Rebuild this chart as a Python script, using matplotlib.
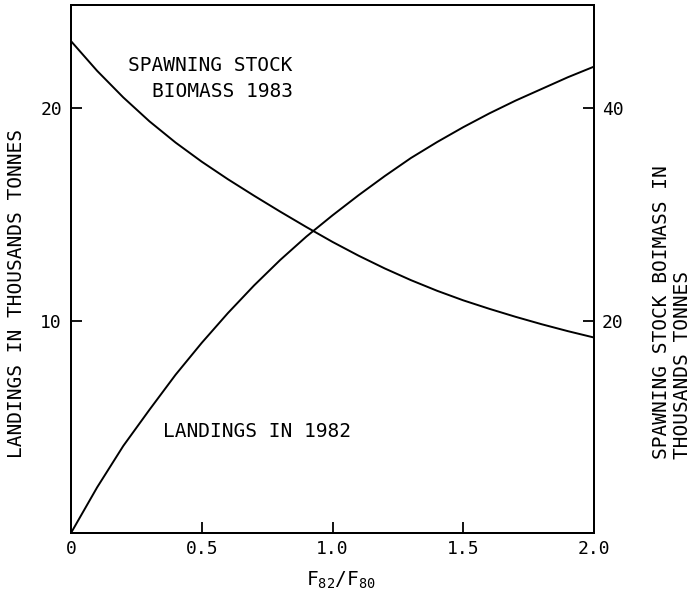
import numpy as np
import matplotlib
matplotlib.use("Agg")
import matplotlib.pyplot as plt

# values
f_ratio = [0.0, 0.1, 0.2, 0.3, 0.4, 0.5, 0.6, 0.7, 0.8, 0.9, 1.0,
           1.1, 1.2, 1.3, 1.4, 1.5, 1.6, 1.7, 1.8, 1.9, 2.0]
landings_1982 = [0.0, 2.15, 4.1, 5.8, 7.45, 8.95, 10.35, 11.65, 12.85, 13.95, 14.95,
                 15.9, 16.8, 17.65, 18.4, 19.1, 19.75, 20.35, 20.9, 21.45, 21.95]
ssb_1983 = [46.3, 43.5, 41.0, 38.75, 36.75, 34.95, 33.3, 31.75, 30.25, 28.8, 27.4,
            26.1, 24.9, 23.8, 22.8, 21.9, 21.1, 20.35, 19.65, 19.0, 18.4]

xticks = [0, 0.5, 1.0, 1.5, 2.0]
xticklabels = ["0", "0.5", "1.0", "1.5", "2.0"]
lticks = [10, 20]
rticks = [20, 40]

plt.rcParams.update({"font.family": "DejaVu Sans Mono",
                     "mathtext.fontset": "custom",
                     "mathtext.rm": "DejaVu Sans Mono",
                     "mathtext.it": "DejaVu Sans Mono",
                     "axes.linewidth": 1.4})

W, H = 694, 601
fig = plt.figure(figsize=(W / 100, H / 100), dpi=100)
ax = fig.add_axes([71 / W, 68 / H, 523 / W, 528 / H])
ax2 = ax.twinx()

ax.plot(f_ratio, landings_1982, color="black", lw=1.4)
ax2.plot(f_ratio, ssb_1983, color="black", lw=1.4)

ax.set_xlim(0, 2.0)
ax.set_ylim(0, 24.85)
ax2.set_ylim(0, 49.7)

ax.set_xticks(xticks)
ax.set_xticklabels(xticklabels)
ax.set_yticks(lticks)
ax2.set_yticks(rticks)
ax.tick_params(axis="x", direction="in", length=8, width=1.3, labelsize=13, pad=5)
ax.tick_params(axis="y", direction="in", length=8, width=1.3, labelsize=13, pad=6.5)
ax2.tick_params(axis="y", direction="in", length=8, width=1.3, labelsize=13, pad=5.8)

def px(x, y):
    # pixel position (from top-left) -> figure fraction
    return x / W, 1 - y / H

# axis titles
fig.text(*px(341, 580), r"$\mathregular{F_{82}/F_{80}}$", fontsize=14,
         ha="center", va="center")
fig.text(*px(17, 293), "LANDINGS IN THOUSANDS TONNES", rotation=90,
         ha="center", va="center", fontsize=14)
fig.text(*px(672, 312), "SPAWNING STOCK BOIMASS IN\nTHOUSANDS TONNES", rotation=90,
         ha="center", va="center", multialignment="left", fontsize=14, linespacing=1.1)

# curve labels
fig.text(*px(293, 71), "SPAWNING STOCK", fontsize=14, ha="right", va="baseline")
fig.text(*px(293, 97), "BIOMASS 1983", fontsize=14, ha="right", va="baseline")
fig.text(*px(163, 437), "LANDINGS IN 1982", fontsize=14, ha="left", va="baseline")

fig.savefig("out.png", dpi=100)
